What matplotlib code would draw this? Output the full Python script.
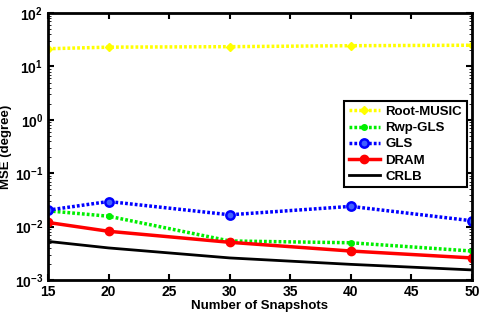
import matplotlib.pyplot as plt

plt.rcParams['font.family'] = ['Liberation Sans', 'DejaVu Sans']
plt.rcParams['font.weight'] = 'bold'

snapshots = [15, 20, 30, 40, 50]
root_music = [21.5, 23, 23.5, 24.5, 25]
rwp_gls = [0.0198, 0.0157, 0.0054, 0.0050, 0.0035]
gls = [0.0204, 0.0296, 0.0167, 0.024, 0.0129]
dram = [0.012, 0.0082, 0.0051, 0.0035, 0.0026]
crlb = [0.0053, 0.0040, 0.0026, 0.00197, 0.00155]

dot = (0, (0.8, 0.6))

fig = plt.figure(figsize=(4.8, 3.19), dpi=100)
ax = fig.add_axes([0.1, 0.122, 0.883, 0.837])

ax.plot(snapshots, root_music, color='yellow', linestyle=dot, linewidth=2.5,
        marker='D', markersize=4, label='Root-MUSIC')
ax.plot(snapshots, rwp_gls, color='#00ee00', linestyle=dot, linewidth=2.5,
        marker='o', markersize=4, label='Rwp-GLS')
ax.plot(snapshots, gls, color='blue', linestyle=dot, linewidth=2.5,
        marker='o', markersize=6, markerfacecolor='#4060ff', markeredgewidth=1.8,
        label='GLS')
ax.plot(snapshots, dram, color='red', linestyle='-', linewidth=2.5,
        marker='o', markersize=6, label='DRAM')
ax.plot(snapshots, crlb, color='black', linestyle='-', linewidth=2,
        label='CRLB')

ax.set_yscale('log')
ax.set_xlim(15, 50)
ax.set_ylim(1e-3, 1e2)
ax.set_xticks([15, 20, 25, 30, 35, 40, 45, 50])
ax.set_yticks([1e-3, 1e-2, 1e-1, 1e0, 1e1, 1e2])
ax.tick_params(direction='in', top=True, right=True, labelsize=10, width=1.5, length=4)
ax.tick_params(which='minor', direction='in', right=True, length=2)
for s in ax.spines.values():
    s.set_linewidth(2)

ax.set_xlabel('Number of Snapshots', fontsize=9.5, fontweight='bold', labelpad=1)
ax.set_ylabel('MSE (degree)', fontsize=9.5, fontweight='bold', labelpad=2)

leg = ax.legend(loc='upper right', bbox_to_anchor=(0.988, 0.67), fontsize=9.5,
                fancybox=False, framealpha=1, edgecolor='black',
                handlelength=2.4, borderpad=0.35, labelspacing=0.3,
                handletextpad=0.4, borderaxespad=0)
leg.get_frame().set_linewidth(1.5)

fig.savefig('out.png', dpi=100)
